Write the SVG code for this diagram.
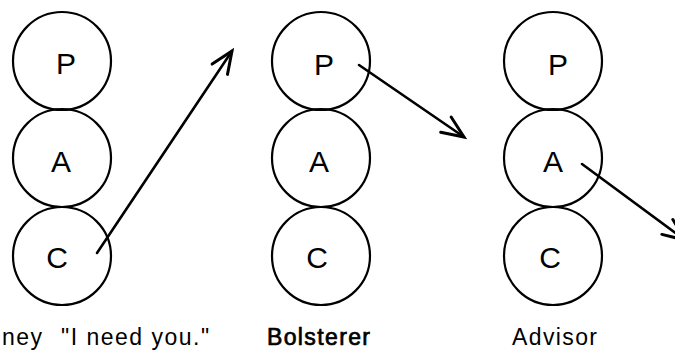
<svg xmlns="http://www.w3.org/2000/svg" width="675" height="352" viewBox="0 0 675 352">
<defs>
<style>
.c{fill:none;stroke:#000;stroke-width:2.2}
.l{font-family:"Liberation Sans",Arial,sans-serif;font-size:30px;fill:#000;text-anchor:middle}
.t{font-family:"Liberation Sans",Arial,sans-serif;font-size:23px;fill:#000}
.e{fill:none;stroke:#000;stroke-width:2.6;stroke-linecap:round}
</style>
<marker id="ah" markerUnits="userSpaceOnUse" markerWidth="30" markerHeight="30" viewBox="-22 -12 26 24" refX="0" refY="0" orient="auto">
<path d="M-19,-8 L0,0 L-19,8" fill="none" stroke="#000" stroke-width="2.6" stroke-linecap="round" stroke-linejoin="miter"/>
</marker>
</defs>
<rect width="675" height="352" fill="#fff"/>
<g id="col1">
<g id="p1"><circle class="c" cx="62" cy="61" r="49"/><text class="l" x="66" y="74">P</text></g>
<g id="a1"><circle class="c" cx="62" cy="158" r="49"/><text class="l" x="61" y="172">A</text></g>
<g id="c1"><circle class="c" cx="62" cy="256" r="49"/><text class="l" x="57" y="268">C</text></g>
<text class="t" x="2" y="345" letter-spacing="1.5">ney<tspan x="61">"I need you."</tspan></text>
</g>
<g id="col2">
<g id="p2"><circle class="c" cx="321" cy="61" r="49"/><text class="l" x="324" y="75">P</text></g>
<g id="a2"><circle class="c" cx="321" cy="158" r="49"/><text class="l" x="319" y="172">A</text></g>
<g id="c2"><circle class="c" cx="321" cy="256" r="49"/><text class="l" x="317" y="268">C</text></g>
<text class="t" x="267" y="345" stroke="#000" stroke-width="0.7" textLength="103" lengthAdjust="spacing">Bolsterer</text>
</g>
<g id="col3">
<g id="p3"><circle class="c" cx="553" cy="61" r="49"/><text class="l" x="558" y="75">P</text></g>
<g id="a3"><circle class="c" cx="553" cy="158" r="49"/><text class="l" x="553" y="172">A</text></g>
<g id="c3"><circle class="c" cx="553" cy="256" r="49"/><text class="l" x="550" y="268">C</text></g>
<text class="t" x="512" y="345" textLength="85" lengthAdjust="spacing">Advisor</text>
</g>
<g id="connectors">
<line class="e" x1="97" y1="253" x2="232" y2="51" marker-end="url(#ah)"/>
<line class="e" x1="359" y1="65" x2="464" y2="137" marker-end="url(#ah)"/>
<line class="e" x1="582" y1="164" x2="685" y2="240" marker-end="url(#ah)"/>
</g>
</svg>
